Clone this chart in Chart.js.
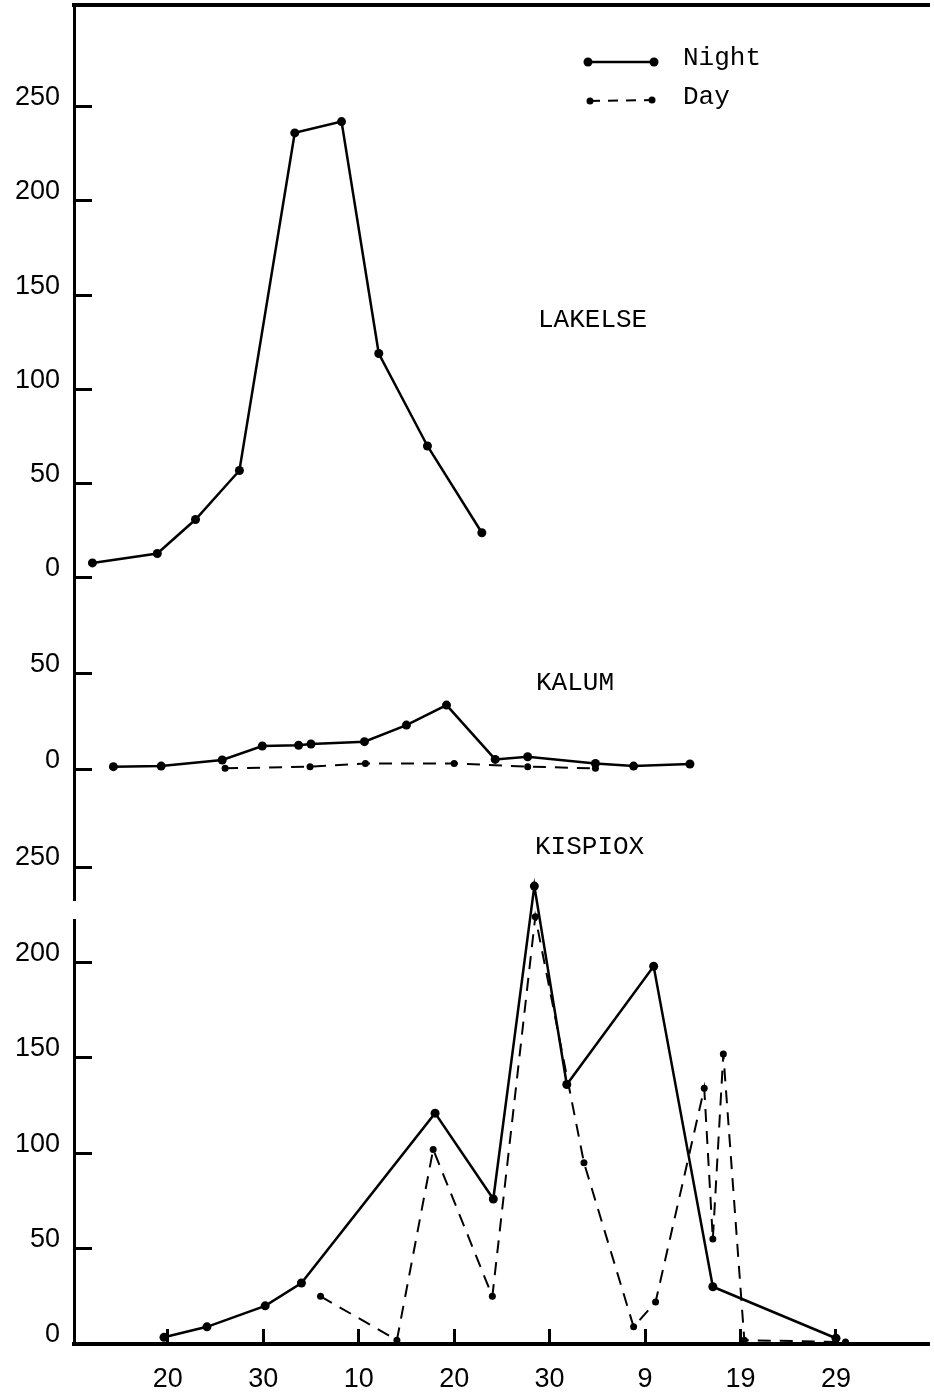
<!DOCTYPE html>
<html>
<head>
<meta charset="utf-8">
<script src="https://cdn.jsdelivr.net/npm/chart.js@4.4.1/dist/chart.umd.min.js"></script>
<style>
  html, body { margin: 0; padding: 0; background: #fff; }
  #wrap { width: 934px; height: 1398px; }
</style>
</head>
<body>
<div id="wrap"><canvas id="fish-chart" width="934" height="1398"></canvas></div>
<script>
// x values are days counted from June 20 (the first "20" tick)
const dayTicks = [0, 10, 20, 30, 40, 50, 60, 70];
const dayTickLabels = ["20", "30", "10", "20", "30", "9", "19", "29"];

const lakelseTicks = [0, 50, 100, 150, 200, 250];
const kalumTicks = [0, 50];
const kispioxTicks = [0, 50, 100, 150, 200, 250];

// Lakelse - night only
const lakelseNightDays = [-7.9, -1.1, 2.9, 7.5, 13.3, 18.2, 22.1, 27.2, 32.9];
const lakelseNight = [8, 13, 31, 57, 236, 242, 119, 70, 24];

// Kalum
const kalumNightDays = [-5.7, -0.7, 5.7, 9.9, 13.7, 15.0, 20.6, 25.0, 29.2, 34.3, 37.7, 44.8, 48.8, 54.7];
const kalumNight = [1.4, 1.7, 4.9, 12.2, 12.6, 13.3, 14.5, 23.2, 33.7, 5.2, 6.6, 3.1, 1.7, 2.8];
const kalumDayDays = [6.0, 14.9, 20.7, 30.0, 37.7, 44.8];
const kalumDay = [0.5, 1.4, 3.1, 3.1, 1.4, 0.5];

// Kispiox
const kispioxNightDays = [-0.4, 4.1, 10.2, 14.0, 28.0, 34.1, 38.4, 41.8, 50.9, 57.1, 70.0];
const kispioxNight = [3.5, 9, 20, 32, 121, 76, 240, 136, 198, 30, 3];
const kispioxDayDays = [16.0, 24.0, 27.8, 34.0, 38.5, 43.6, 48.8, 51.1, 56.2, 57.1, 58.2, 60.4, 71.0];
const kispioxDay = [25, 2, 102, 25, 224, 95, 9, 22, 134, 55, 152, 2, 1];

const tickFont = { family: "'Liberation Sans', sans-serif", size: 27 };
const typeFont = "26px 'Liberation Mono', monospace";

const pts = (xs, ys) => xs.map((x, i) => ({ x: x, y: ys[i] }));

const nightStyle = {
  borderColor: '#000',
  backgroundColor: '#000',
  borderWidth: 2.5,
  pointRadius: 4.5,
  pointBackgroundColor: '#000',
  pointBorderWidth: 0,
  tension: 0,
  fill: false
};

const dayStyle = {
  borderColor: '#000',
  backgroundColor: '#000',
  borderWidth: 2,
  borderDash: [13, 9],
  pointRadius: 3.5,
  pointBackgroundColor: '#000',
  pointBorderWidth: 0,
  tension: 0,
  fill: false
};

// no extra room for half-labels at the ends of an axis
function noPadding(s) {
  s.paddingTop = 0;
  s.paddingBottom = 0;
  s.paddingLeft = 0;
  s.paddingRight = 0;
}

// shared look of the three stacked y axes
function panelAxis(ticks, min, max, weight, stackWeight) {
  return {
    type: 'linear',
    position: 'left',
    stack: 'panels',
    stackWeight: stackWeight,
    weight: weight,
    min: min,
    max: max,
    afterBuildTicks: s => { s.ticks = ticks.map(v => ({ value: v })); },
    afterFit: s => { s.width = 74; noPadding(s); },
    grid: { drawOnChartArea: false, tickLength: -18, tickWidth: 3, tickColor: '#000' },
    border: { color: '#000', width: 3 },
    ticks: { color: '#000', font: tickFont, padding: 32, labelOffset: -9 }
  };
}

// panel names, the night/day key and the break in the left axis
const labelsPlugin = {
  id: 'panelLabels',
  afterDraw(chart) {
    const ctx = chart.ctx;
    ctx.save();
    ctx.fillStyle = '#fff';
    ctx.fillRect(70, 901, 9, 18);

    ctx.fillStyle = '#000';
    ctx.font = typeFont;
    ctx.textBaseline = 'middle';
    ctx.fillText('LAKELSE', 538, 320);
    ctx.fillText('KALUM', 536, 683);
    ctx.fillText('KISPIOX', 535, 847);
    ctx.fillText('Night', 683, 58);
    ctx.fillText('Day', 683, 97);

    ctx.strokeStyle = '#000';
    ctx.lineWidth = nightStyle.borderWidth;
    ctx.beginPath();
    ctx.moveTo(588, 62);
    ctx.lineTo(654, 62);
    ctx.stroke();
    ctx.lineWidth = dayStyle.borderWidth;
    ctx.setLineDash([10, 8]);
    ctx.beginPath();
    ctx.moveTo(590, 101);
    ctx.lineTo(652, 100);
    ctx.stroke();
    ctx.setLineDash([]);
    [[588, 62, 4.5], [654, 62, 4.5], [590, 101, 3.5], [652, 100, 3.5]].forEach(p => {
      ctx.beginPath();
      ctx.arc(p[0], p[1], p[2], 0, Math.PI * 2);
      ctx.fill();
    });
    ctx.restore();
  }
};

new Chart(document.getElementById('fish-chart'), {
  type: 'line',
  data: {
    datasets: [
      Object.assign({ label: 'Lakelse Night', data: pts(lakelseNightDays, lakelseNight), yAxisID: 'yLakelse' }, nightStyle),
      Object.assign({ label: 'Kalum Night', data: pts(kalumNightDays, kalumNight), yAxisID: 'yKalum' }, nightStyle),
      Object.assign({ label: 'Kalum Day', data: pts(kalumDayDays, kalumDay), yAxisID: 'yKalum' }, dayStyle),
      Object.assign({ label: 'Kispiox Night', data: pts(kispioxNightDays, kispioxNight), yAxisID: 'yKispiox' }, nightStyle),
      Object.assign({ label: 'Kispiox Day', data: pts(kispioxDayDays, kispioxDay), yAxisID: 'yKispiox' }, dayStyle)
    ]
  },
  options: {
    responsive: false,
    animation: false,
    devicePixelRatio: 1,
    layout: { padding: 0 },
    plugins: {
      legend: { display: false },
      tooltip: { enabled: false }
    },
    scales: {
      x: {
        type: 'linear',
        position: 'bottom',
        min: -9.83,
        max: 79.8,
        afterBuildTicks: s => { s.ticks = dayTicks.map(v => ({ value: v })); },
        afterFit: s => { s.height = 54; noPadding(s); },
        grid: { drawOnChartArea: false, tickLength: -15, tickWidth: 3, tickColor: '#000' },
        border: { color: '#000', width: 4 },
        ticks: {
          color: '#000',
          font: tickFont,
          padding: 34,
          maxRotation: 0,
          autoSkip: false,
          callback: (v, i) => dayTickLabels[i]
        }
      },
      xTop: {
        type: 'linear',
        position: 'top',
        min: -9.83,
        max: 79.8,
        afterFit: s => { s.height = 5; noPadding(s); },
        grid: { display: false },
        border: { color: '#000', width: 4 },
        ticks: { display: false }
      },
      yLakelse: panelAxis(lakelseTicks, -22.27, 303.8, 3, 615),
      yKalum: panelAxis(kalumTicks, -21.35, 78.33, 2, 190),
      yKispiox: panelAxis(kispioxTicks, 0, 279.9, 1, 534)
    }
  },
  plugins: [labelsPlugin]
});
</script>
</body>
</html>
